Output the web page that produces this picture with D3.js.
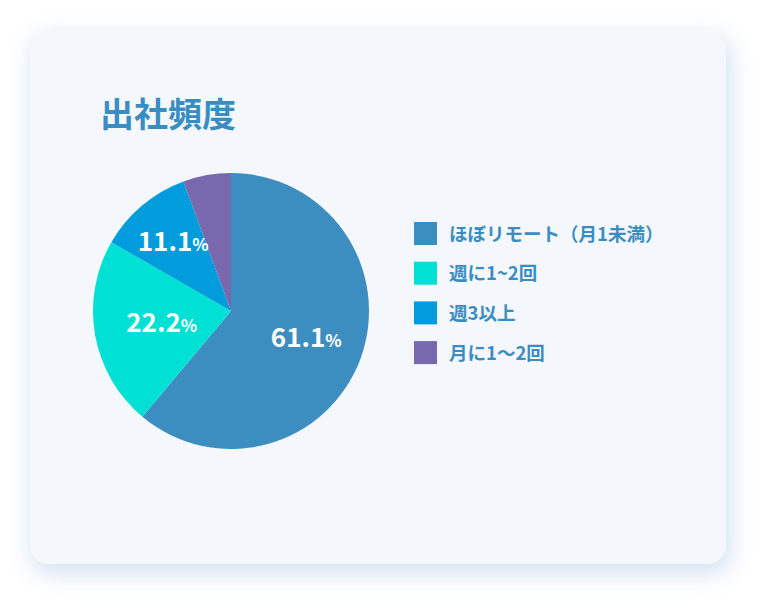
<!DOCTYPE html>
<html>
<head>
<meta charset="utf-8">
<style>
    body {
        margin: 0;
        background: #ffffff;
        font-family: "Noto Sans CJK JP", "Noto Sans", sans-serif;
    }

    .card {
        position: absolute;
        left: 30px;
        top: 30px;
        width: 696px;
        height: 534px;
        border-radius: 18px;
        background: #f4f8fc;
        box-shadow: 3px 8px 24px rgba(90, 150, 205, 0.3);
    }

    svg {
        position: absolute;
        left: 0;
        top: 0;
    }

    .title {
        font-size: 34px;
        font-weight: 700;
        fill: #3a8dc2;
    }

    .legend text {
        font-size: 18.5px;
        font-weight: 700;
        fill: #3a8dc2;
    }

    .pct {
        font-weight: 700;
        fill: #ffffff;
    }
</style>
</head>
<body>
<div class="card"></div>
<svg width="762" height="602"></svg>

<script src="https://d3js.org/d3.v7.min.js"></script>
<script>
    // data
    let categories = ["ほぼリモート（月1未満）", "週に1~2回", "週3以上", "月に1〜2回"];
    let shares = [61.1, 22.2, 11.1, 5.6];
    let colors = ["#3d8ec0", "#00e0d4", "#009cdc", "#7868ad"];
    let showLabel = [true, true, true, false];
    // how far out from the centre each label sits (share of radius)
    let labelRadius = [0.58, 0.51, 0.65, 0.6];

    let svg = d3.select("svg");

    svg.append("text")
        .attr("class", "title")
        .attr("x", 100)
        .attr("y", 127)
        .text("出社頻度");

    let cx = 231, cy = 311, radius = 138;

    let pie = d3.pie().sort(null).value(d => d);
    let arcs = pie(shares);

    let arc = d3.arc().innerRadius(0).outerRadius(radius);

    let g = svg.append("g")
        .attr("transform", `translate(${cx},${cy})`);

    g.selectAll("path")
        .data(arcs)
        .join("path")
        .attr("fill", (d, i) => colors[i])
        .attr("d", arc);

    let labels = g.selectAll("text.pct")
        .data(arcs.filter((d, i) => showLabel[i]))
        .join("text")
        .attr("class", "pct")
        .attr("text-anchor", "middle")
        .attr("transform", d => {
            let r = radius * labelRadius[d.index];
            let c = d3.arc().innerRadius(r).outerRadius(r).centroid(d);
            return `translate(${c[0]},${c[1] + 9})`;
        });

    labels.append("tspan")
        .style("font-size", "26px")
        .text(d => d.value.toFixed(1));
    labels.append("tspan")
        .style("font-size", "17px")
        .text("%");

    // legend
    let legend = svg.append("g")
        .attr("class", "legend")
        .attr("transform", "translate(414,222)");

    let rows = legend.selectAll("g")
        .data(categories)
        .join("g")
        .attr("transform", (d, i) => `translate(0,${i * 39.7})`);

    rows.append("rect")
        .attr("width", 23)
        .attr("height", 23)
        .attr("fill", (d, i) => colors[i]);

    rows.append("text")
        .attr("x", 35)
        .attr("y", 18.5)
        .text(d => d);
</script>
</body>
</html>
